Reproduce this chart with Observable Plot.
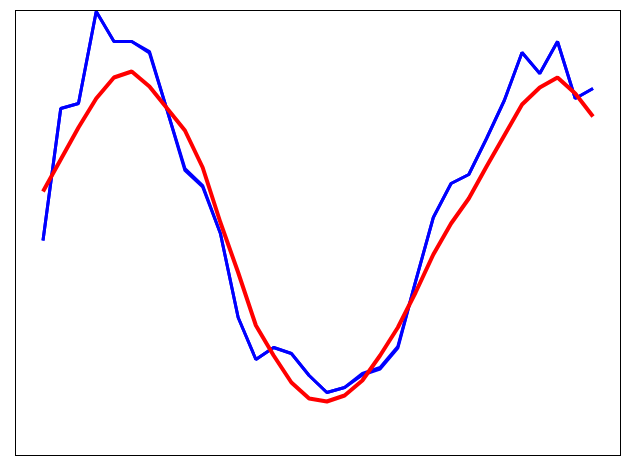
<!DOCTYPE html>
<html>
<head>
<meta charset="utf-8">
<script src="https://cdn.jsdelivr.net/npm/d3@7"></script>
<script src="https://cdn.jsdelivr.net/npm/@observablehq/plot@0.6"></script>
<style>
  html, body { margin: 0; padding: 0; background: #fff; }
</style>
</head>
<body>
<div id="chart"></div>
<script>
const xs = d3.range(32);
const blue = [2.15, 3.47, 3.52, 4.44, 4.14, 4.14, 4.04, 3.45, 2.87, 2.70, 2.22, 1.38, 0.96, 1.08, 1.02, 0.80,
              0.63, 0.68, 0.82, 0.88, 1.09, 1.74, 2.38, 2.72, 2.81, 3.17, 3.55, 4.03, 3.82, 4.14, 3.57, 3.67];
const blueAlt = [2.15, 3.47, 3.52, 4.44, 4.14, 4.14, 4.025, 3.45, 2.85, 2.685, 2.22, 1.38, 0.96, 1.08, 1.02, 0.80,
              0.63, 0.68, 0.805, 0.865, 1.075, 1.74, 2.38, 2.72, 2.81, 3.17, 3.55, 4.03, 3.82, 4.14, 3.57, 3.67];
const red = [2.64, 2.96, 3.28, 3.57, 3.78, 3.84, 3.69, 3.47, 3.25, 2.88, 2.33, 1.83, 1.30, 1.00, 0.73, 0.57,
             0.54, 0.60, 0.75, 1.00, 1.28, 1.63, 2.01, 2.32, 2.57, 2.89, 3.20, 3.51, 3.68, 3.78, 3.62, 3.39];

const blueData = xs.map((x, i) => ({x, y: blue[i]}));
const blueAltData = xs.map((x, i) => ({x, y: blueAlt[i]}));
const redData = xs.map((x, i) => ({x, y: red[i]}));

const chart = Plot.plot({
  width: 630,
  height: 470,
  marginLeft: 15,
  marginRight: 10,
  marginTop: 10,
  marginBottom: 15,
  x: {domain: [-1.55, 32.55], axis: null},
  y: {domain: [0, 4.45], axis: null},
  marks: [
    Plot.line(blueData, {x: "x", y: "y", stroke: "#0000ff", strokeWidth: 3, strokeLinejoin: "miter", strokeLinecap: "butt"}),
    Plot.line(blueAltData, {x: "x", y: "y", stroke: "#0000ff", strokeWidth: 3, strokeLinejoin: "miter", strokeLinecap: "butt"}),
    Plot.line(redData, {x: "x", y: "y", stroke: "#ff0000", strokeWidth: 4, strokeLinejoin: "miter", strokeLinecap: "butt"}),
    Plot.frame({stroke: "#000", strokeWidth: 1})
  ]
});
document.getElementById("chart").appendChild(chart);
</script>
</body>
</html>
